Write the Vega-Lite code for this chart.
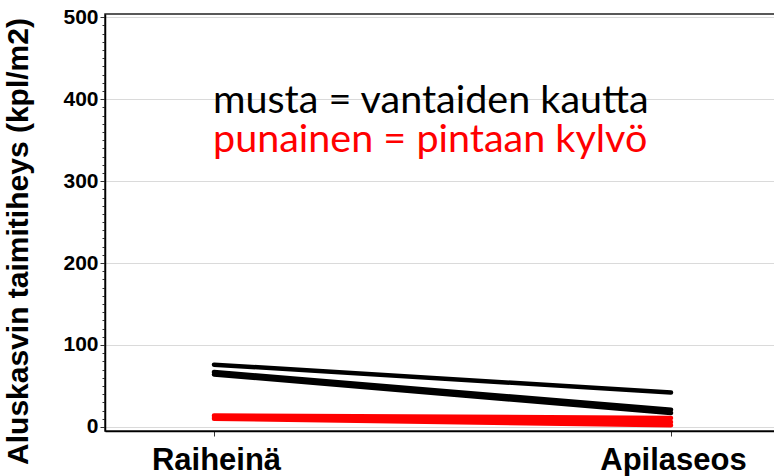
{
  "$schema": "https://vega.github.io/schema/vega-lite/v6.json",
  "autosize": "none",
  "padding": {"left": 105, "top": 14, "right": 0, "bottom": 45},
  "width": 675,
  "height": 417,
  "background": "white",
  "config": {
    "view": {"stroke": "#222", "strokeWidth": 1.5},
    "font": "Liberation Sans"
  },
  "datasets": {
    "lines": [
      {"kasvi": "Raiheinä", "tiheys": 76, "sarja": "m1", "tapa": "musta"},
      {"kasvi": "Apilaseos", "tiheys": 42, "sarja": "m1", "tapa": "musta"},
      {"kasvi": "Raiheinä", "tiheys": 67, "sarja": "m2", "tapa": "musta"},
      {"kasvi": "Apilaseos", "tiheys": 21, "sarja": "m2", "tapa": "musta"},
      {"kasvi": "Raiheinä", "tiheys": 64, "sarja": "m3", "tapa": "musta"},
      {"kasvi": "Apilaseos", "tiheys": 17, "sarja": "m3", "tapa": "musta"},
      {"kasvi": "Raiheinä", "tiheys": 14, "sarja": "p1", "tapa": "punainen"},
      {"kasvi": "Apilaseos", "tiheys": 11, "sarja": "p1", "tapa": "punainen"},
      {"kasvi": "Raiheinä", "tiheys": 12, "sarja": "p2", "tapa": "punainen"},
      {"kasvi": "Apilaseos", "tiheys": 6, "sarja": "p2", "tapa": "punainen"},
      {"kasvi": "Raiheinä", "tiheys": 10, "sarja": "p3", "tapa": "punainen"},
      {"kasvi": "Apilaseos", "tiheys": 2, "sarja": "p3", "tapa": "punainen"}
    ],
    "notes": [
      {"kasvi": "Raiheinä", "tiheys": 383, "teksti": "musta = vantaiden kautta", "tapa": "musta"},
      {"kasvi": "Raiheinä", "tiheys": 335, "teksti": "punainen = pintaan kylvö", "tapa": "punainen"}
    ]
  },
  "encoding": {
    "x": {
      "field": "kasvi", "type": "ordinal", "sort": ["Raiheinä", "Apilaseos"],
      "scale": {"type": "point", "padding": 0.2385},
      "axis": {
        "title": null, "labelAngle": 0, "labelFont": "Liberation Sans", "labelFontWeight": "bold",
        "labelFontSize": 31, "labelColor": "black", "labelPadding": 9, "labelOffset": 2,
        "domainColor": "black", "domainWidth": 1.5, "tickColor": "#333", "tickSize": 5, "grid": false
      }
    },
    "y": {
      "field": "tiheys", "type": "quantitative",
      "scale": {"domain": [-5, 504], "nice": false, "zero": false},
      "axis": {
        "title": "Aluskasvin taimitiheys (kpl/m2)",
        "titleFont": "Liberation Sans", "titleFontWeight": "bold", "titleFontSize": 30, "titleColor": "black",
        "titleAngle": -90, "titleAlign": "center", "titleBaseline": "alphabetic", "titleX": -78, "titleY": 227,
        "values": [0,10,20,30,40,50,60,70,80,90,100,110,120,130,140,150,160,170,180,190,200,210,220,230,240,250,260,270,280,290,300,310,320,330,340,350,360,370,380,390,400,410,420,430,440,450,460,470,480,490,500],
        "labelExpr": "datum.value % 100 == 0 ? datum.label : ''",
        "labelFont": "Liberation Sans", "labelFontWeight": "bold", "labelFontSize": 21, "labelColor": "black", "labelPadding": 2,
        "labelOverlap": false,
        "tickSize": {"condition": {"test": "datum.value % 100 == 0", "value": 5}, "value": 3},
        "tickColor": "#333",
        "domainColor": "black", "domainWidth": 1.5,
        "grid": true, "gridColor": "#dadada", "gridWidth": 1.2,
        "gridOpacity": {"condition": {"test": "datum.value % 100 == 0", "value": 1}, "value": 0}
      }
    },
    "color": {"field": "tapa", "type": "nominal", "scale": {"domain": ["musta", "punainen"], "range": ["#000000", "#ff0000"]}, "legend": null}
  },
  "layer": [
    {
      "data": {"name": "lines"},
      "mark": {"type": "line", "strokeWidth": 4.5, "strokeCap": "round"},
      "encoding": {
        "detail": {"field": "sarja"}
      }
    },
    {
      "data": {"name": "notes"},
      "mark": {"type": "text", "align": "left", "baseline": "alphabetic", "font": "Lato", "fontSize": 39.5, "dx": -1},
      "encoding": {
        "text": {"field": "teksti"}
      }
    }
  ]
}
